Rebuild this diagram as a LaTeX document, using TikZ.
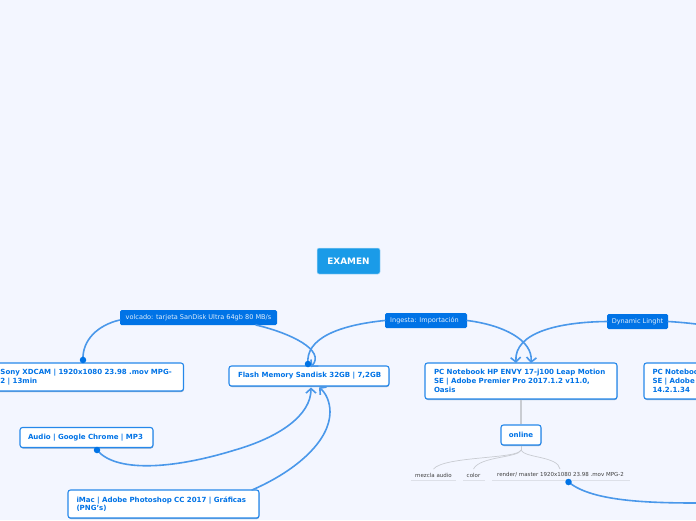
\documentclass[tikz,border=0pt]{standalone}
\usepackage{fontspec}
\setmainfont{DejaVu Sans}
\usetikzlibrary{arrows.meta,shadows}
\definecolor{bgc}{HTML}{F3F6FF}
\definecolor{topc}{HTML}{1A9BE8}
\definecolor{labc}{HTML}{0073E6}
\definecolor{linec}{HTML}{4A98EA}
\definecolor{greyc}{HTML}{C9CCD2}
\definecolor{ulc}{HTML}{DDE0E8}
\tikzset{
 x=1pt,y=-1pt,
 central/.style={fill=topc,draw=white!70!topc,line width=.5pt,rounded corners=2pt,text=white,font=\bfseries\fontsize{8.9}{10}\selectfont,minimum width=63pt,minimum height=26pt,inner sep=0pt},
 labelbox/.style={fill=labc,rounded corners=1.5pt,text=white!88!labc,font=\fontsize{6.55}{8}\selectfont,inner sep=0pt,minimum height=15pt},
 mainbox/.style={fill=white,draw=labc!85!white,line width=1.1pt,rounded corners=2.5pt,text=labc,font=\bfseries\fontsize{7.04}{8.7}\selectfont,inner sep=0pt,align=left,drop shadow={shadow xshift=.4pt,shadow yshift=-1pt,fill=labc!60!black,opacity=.45}},
 leaf/.style={text=black!75,font=\fontsize{5.5}{6.5}\selectfont,inner sep=0pt,minimum height=10pt},
 link/.style={draw=linec,line width=1.6pt,line cap=round},
 arrowlink/.style={link,-{Straight Barb[length=4.5pt,width=10pt,line width=1.6pt]}},
 dotc/.style={circle,fill=labc,inner sep=0pt,minimum size=6.5pt},
 greyline/.style={draw=greyc,line width=.7pt},
 underl/.style={draw=ulc,line width=.9pt},
}
\begin{document}
\begin{tikzpicture}
\useasboundingbox (0,0) rectangle (696,520);
\clip (0,0) rectangle (696,520);
\fill[bgc] (0,0) rectangle (696,520);

\node[central] (exam) at (348.5,261) {EXAMEN};

\node[mainbox,minimum width=196pt,minimum height=28pt,text width=170pt] (sony) at (85.5,377) {\mbox{Sony XDCAM | 1920x1080 23.98 .mov MPG-}\\2 | 13min};
\node[mainbox,minimum width=160pt,minimum height=20pt,text width=142pt] (flash) at (309,376) {\mbox{Flash Memory Sandisk 32GB | 7,2GB}};
\node[mainbox,minimum width=133pt,minimum height=20pt,text width=117pt] (audio) at (86.5,437.5) {\mbox{Audio | Google Chrome | MP3}};
\node[mainbox,minimum width=191pt,minimum height=28pt,text width=174pt] (imac) at (163.5,504) {\mbox{iMac | Adobe Photoshop CC 2017 | Gráficas}\\(PNG's)};
\node[mainbox,minimum width=192pt,minimum height=36pt,text width=174pt] (hp) at (521,381) {\mbox{PC Notebook HP ENVY 17-j100 Leap Motion}\\SE | Adobe Premier Pro 2017.1.2 v11.0,\\Oasis};
\node[mainbox,minimum width=120pt,minimum height=36pt,text width=103pt] (davinci) at (704,381) {PC Notebook\\SE | Adobe\\14.2.1.34};
\node[mainbox,minimum width=40pt,minimum height=20pt,align=center] (online) at (521,435) {online};

\node[labelbox,minimum width=157pt] (volc) at (198.5,317.5) {volcado: tarjeta SanDisk Ultra 64gb 80 MB/s};
\node[labelbox,minimum width=82pt] (ing) at (426,320.5) {\hspace{-3pt}Ingesta: Importación};
\node[labelbox,minimum width=61pt] (dyn) at (637.5,321.5) {Dynamic Linght};

\node[leaf] (mez) at (433.5,475) {mezcla audio};
\node[leaf] (col) at (473.5,475) {color};
\node[leaf] (ren) at (560.5,475) {render/ master 1920x1080 23.98 .mov MPG-2};
\coordinate (renr) at (630,480.5);
\coordinate (renl) at (492,480.5);
\draw[underl] (411,480.5) -- (456,480.5);
\draw[underl] (463,480.5) -- (485,480.5);
\draw[underl] (renl) -- (renr);

% grey branches
\draw[greyc,line width=1.5pt] (hp.south) -- (online.north);
\coordinate (ofork) at (521,450);
\draw[greyline] (online.south) -- (ofork);
\draw[greyline] (ofork) .. controls (519,459) and (444,456) .. (433.5,469);
\draw[greyline] (ofork) .. controls (519,458) and (480,456) .. (473.5,469);
\draw[greyline] (ofork) .. controls (524,458) and (558,456) .. (560,469);

% anchors on the boxes
\coordinate (sonytop) at (83,360);
\coordinate (flashin) at (311,367);
\coordinate (flashdot) at (308,364);
\coordinate (flashb1) at (311,387.5);
\coordinate (flashb2) at (319,387.5);
\coordinate (hp1) at (531,363);
\coordinate (hp2) at (516,363);
\coordinate (audiodot) at (97,450);
\coordinate (imactop) at (252,490);
\coordinate (rendot) at (568.5,482);
\coordinate (offr) at (696,503);
\coordinate (offd) at (696,324);

\draw[link] (volc.west) ++(0,2.5) .. controls (98,325) and (82,340) .. (sonytop);
\draw[arrowlink] (256,325) .. controls (290,333) and (326,350) .. (flashin);
\draw[link] (ing.west) .. controls (340,325) and (305,338) .. (flashdot);
\draw[arrowlink] (ing.east) .. controls (503,325) and (533,340) .. (hp1);
\draw[arrowlink] (dyn.west) .. controls (560,322) and (514,332) .. (hp2);
\draw[link] (dyn.east) .. controls (677,322) and (688,323) .. (offd);
\draw[arrowlink] (audiodot) .. controls (115,472) and (170,470) .. (235,450) .. controls (280,437) and (311,415) .. (flashb1);
\draw[arrowlink] (imactop) .. controls (298,470) and (330,440) .. (330,412) .. controls (330,402) and (326,393) .. (flashb2);
\draw[link] (rendot) .. controls (590,500) and (640,503) .. (offr);

\node[dotc] at (sonytop) {};
\node[dotc] at (flashdot) {};
\node[dotc] at (audiodot) {};
\node[dotc] at (rendot) {};
\end{tikzpicture}
\end{document}
